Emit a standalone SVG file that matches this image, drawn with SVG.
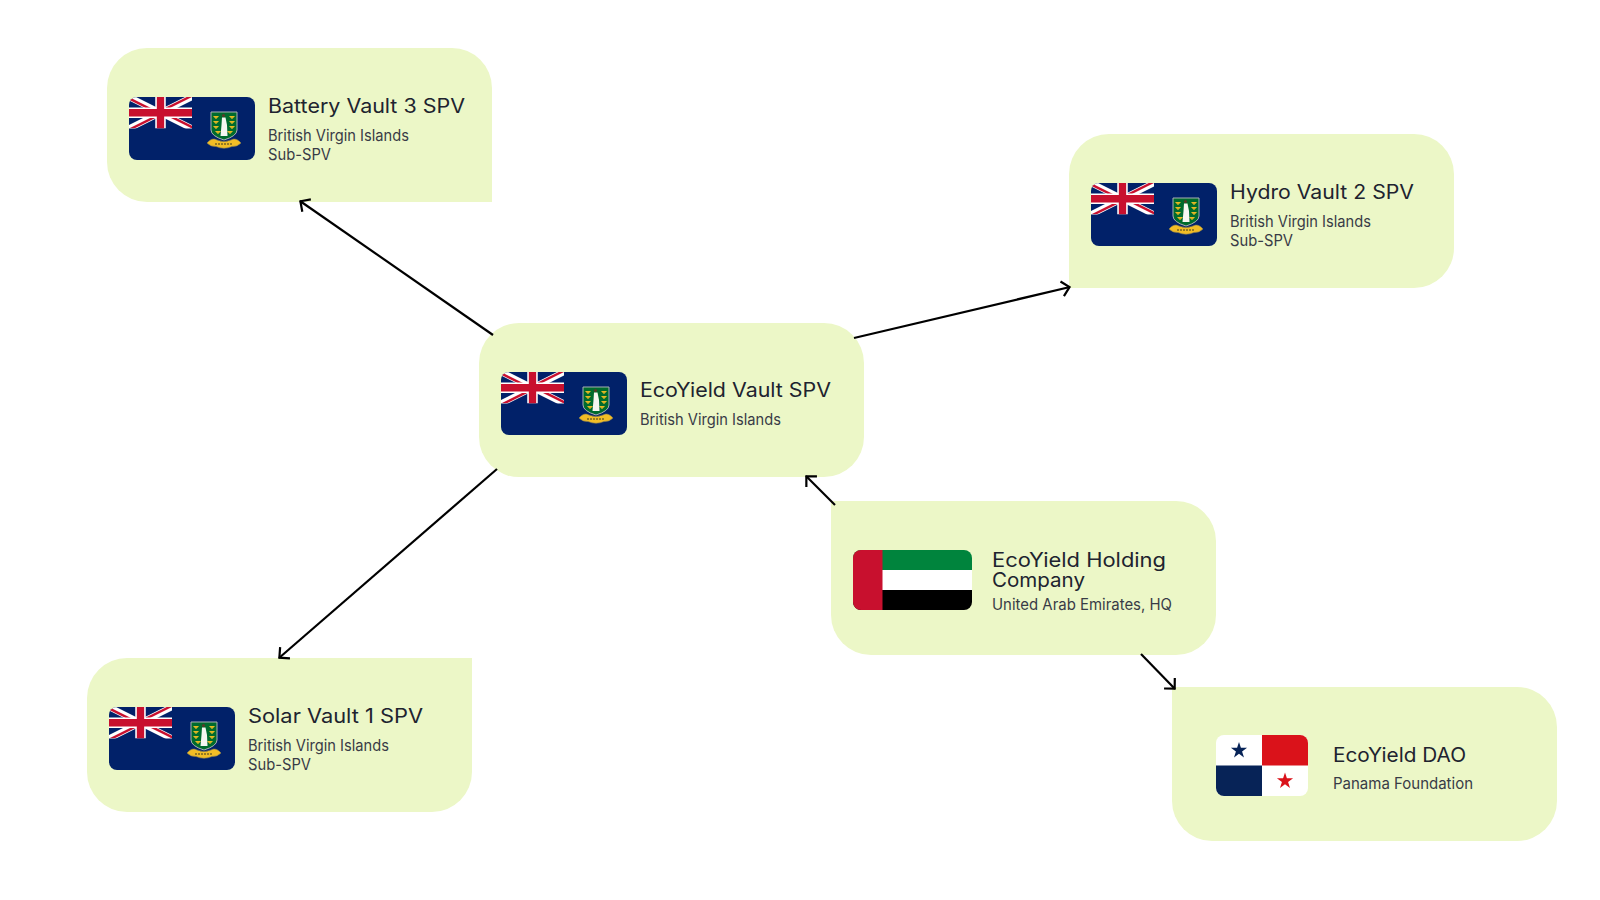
<svg xmlns="http://www.w3.org/2000/svg" width="1600" height="900" viewBox="0 0 1600 900">
<style>
.box{fill:#ecf7c7}
.t{font-family:"Inter","Liberation Sans",sans-serif;font-size:19.500px;fill:#20232f}
.s{font-family:"Inter","Liberation Sans",sans-serif;font-size:15.500px;fill:#383b46}
.c{fill:none;stroke:#000;stroke-width:2.200;marker-end:url(#arr)}
</style>
<defs>
<marker id="arr" markerUnits="userSpaceOnUse" markerWidth="24" markerHeight="24" refX="13" refY="12" orient="auto" overflow="visible"><path d="M5 4.500L12.500 12L5 19.500" fill="none" stroke="#000" stroke-width="2.200"/></marker>
<clipPath id="cb"><rect width="126" height="63" rx="8"/></clipPath>
<clipPath id="uj"><rect width="60" height="30"/></clipPath>
<clipPath id="ujt"><path d="M30 15H60V30ZV30H0ZH0V0ZV0H60Z"/></clipPath>
<clipPath id="cu"><rect width="119" height="60" rx="8"/></clipPath>
<clipPath id="cp"><rect width="92" height="61" rx="8"/></clipPath>
<g id="lamp"><path d="M-3 0H3L1.500 1.800H.6V3H-.6V1.800H-1.500Z" fill="#e8b923"/></g>
<g id="bvi"><g clip-path="url(#cb)">
<rect width="126" height="63" fill="#012169"/>
<g transform="scale(1.050)" clip-path="url(#uj)">
<path d="M0 0L60 30M60 0L0 30" stroke="#fff" stroke-width="6"/>
<path d="M0 0L60 30M60 0L0 30" stroke="#c8102e" stroke-width="4.500" clip-path="url(#ujt)"/>
<path d="M30 0V30M0 15H60" stroke="#fff" stroke-width="10"/>
<path d="M30 0V30M0 15H60" stroke="#c8102e" stroke-width="7"/>
</g>
<path d="M82 15H108V33Q108 39 95 43Q82 39 82 33Z" fill="#006b2d" stroke="#aab0b4" stroke-width="1"/>
<use href="#lamp" x="87" y="19"/><use href="#lamp" x="87" y="24"/><use href="#lamp" x="87" y="29"/><use href="#lamp" x="89" y="34"/>
<use href="#lamp" x="103" y="19"/><use href="#lamp" x="103" y="24"/><use href="#lamp" x="103" y="29"/><use href="#lamp" x="101" y="34"/>
<circle cx="94.500" cy="18.500" r="1.500" fill="#5a3a28"/>
<path d="M93 20.500H96.500L98 28L98.500 39H91.500L92.500 28Z" fill="#f6f6f2"/>
<path d="M78 46Q83 40 88 43Q95 46 102 43Q107 40 112 46Q108 50 103 49.500Q95 53 87 49.500Q82 50 78 46Z" fill="#f2bd25" stroke="#8a7d50" stroke-width=".6"/>
<path d="M86 47H104" stroke="#3a3a20" stroke-width="1" stroke-dasharray="2 1"/>
</g></g>
</defs>
<g id="battery"><path class="box" d="M147 48H452a40 40 0 0 1 40 40V202H147a40 40 0 0 1-40-40V88a40 40 0 0 1 40-40Z"/><use href="#bvi" x="129" y="97"/>
<text class="t" x="268" y="112.500" textLength="197" lengthAdjust="spacingAndGlyphs">Battery Vault 3 SPV</text><text class="s" x="268" y="141" textLength="141" lengthAdjust="spacingAndGlyphs">British Virgin Islands</text><text class="s" x="268" y="160" textLength="63" lengthAdjust="spacingAndGlyphs">Sub-SPV</text></g>
<g id="hydro"><path class="box" d="M1109 134H1414a40 40 0 0 1 40 40V248a40 40 0 0 1-40 40H1069V174a40 40 0 0 1 40-40Z"/><use href="#bvi" x="1091" y="183"/>
<text class="t" x="1230" y="198.500" textLength="184" lengthAdjust="spacingAndGlyphs">Hydro Vault 2 SPV</text><text class="s" x="1230" y="227" textLength="141" lengthAdjust="spacingAndGlyphs">British Virgin Islands</text><text class="s" x="1230" y="246" textLength="63" lengthAdjust="spacingAndGlyphs">Sub-SPV</text></g>
<g id="vault"><rect class="box" x="479" y="323" width="385" height="154" rx="40"/><use href="#bvi" x="501" y="372"/>
<text class="t" x="640" y="396.500" textLength="191" lengthAdjust="spacingAndGlyphs">EcoYield Vault SPV</text><text class="s" x="640" y="425" textLength="141" lengthAdjust="spacingAndGlyphs">British Virgin Islands</text></g>
<g id="solar"><path class="box" d="M127 658H472V772a40 40 0 0 1-40 40H127a40 40 0 0 1-40-40V698a40 40 0 0 1 40-40Z"/><use href="#bvi" x="109" y="707"/>
<text class="t" x="248" y="722.500" textLength="175" lengthAdjust="spacingAndGlyphs">Solar Vault 1 SPV</text><text class="s" x="248" y="751" textLength="141" lengthAdjust="spacingAndGlyphs">British Virgin Islands</text><text class="s" x="248" y="770" textLength="63" lengthAdjust="spacingAndGlyphs">Sub-SPV</text></g>
<g id="holding"><path class="box" d="M831 501H1176a40 40 0 0 1 40 40V615a40 40 0 0 1-40 40H871a40 40 0 0 1-40-40Z"/>
<g transform="translate(853 550)" clip-path="url(#cu)"><rect width="119" height="20" fill="#00843d"/><rect y="20" width="119" height="20" fill="#fff"/><rect y="40" width="119" height="20" fill="#000"/><rect width="29.500" height="60" fill="#c8102e"/></g>
<text class="t" x="992" y="567" textLength="174" lengthAdjust="spacingAndGlyphs">EcoYield Holding</text><text class="t" x="992" y="587" textLength="93" lengthAdjust="spacingAndGlyphs">Company</text><text class="s" x="992" y="610" textLength="180" lengthAdjust="spacingAndGlyphs">United Arab Emirates, HQ</text></g>
<g id="dao"><path class="box" d="M1172 687H1517a40 40 0 0 1 40 40V801a40 40 0 0 1-40 40H1212a40 40 0 0 1-40-40Z"/>
<g transform="translate(1216 735)" clip-path="url(#cp)"><rect width="92" height="61" fill="#fff"/><rect x="46" width="46" height="30.500" fill="#da121a"/><rect y="30.500" width="46" height="30.500" fill="#072357"/>
<path transform="translate(23 15.500) scale(8.500)" d="M0-1L.225-.309L.951-.309L.363.118L.588.809L0 .382L-.588.809L-.363.118L-.951-.309L-.225-.309Z" fill="#072357"/>
<path transform="translate(69 46) scale(8.500)" d="M0-1L.225-.309L.951-.309L.363.118L.588.809L0 .382L-.588.809L-.363.118L-.951-.309L-.225-.309Z" fill="#da121a"/></g>
<text class="t" x="1333" y="761.500" textLength="133" lengthAdjust="spacingAndGlyphs">EcoYield DAO</text><text class="s" x="1333" y="788.500" textLength="140" lengthAdjust="spacingAndGlyphs">Panama Foundation</text></g>
<g id="connectors">
<path class="c" d="M493 335L300 201"/>
<path class="c" d="M854 338L1070 287"/>
<path class="c" d="M497 469L279 658"/>
<path class="c" d="M835 505L806 476"/>
<path class="c" d="M1141 654L1175 689"/>
</g>
</svg>
